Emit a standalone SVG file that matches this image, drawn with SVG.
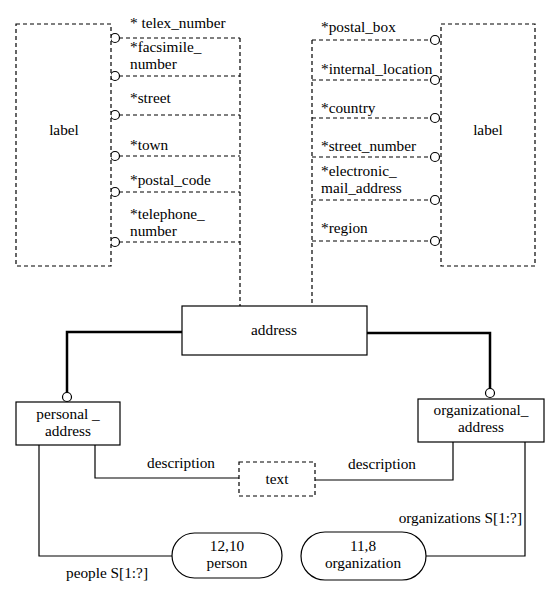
<svg xmlns="http://www.w3.org/2000/svg" width="550" height="589" viewBox="0 0 550 589" font-family="'Liberation Serif', 'DejaVu Serif', serif" font-size="15.3">
<style>
text{font-family:'Liberation Serif','DejaVu Serif',serif;font-size:15.3px;fill:#000}
.m{text-anchor:middle}
.box{fill:#fff;stroke:#000;stroke-width:1.2}
.dbox{fill:#fff;stroke:#000;stroke-width:1.2;stroke-dasharray:4,3}
.dl{fill:none;stroke:#000;stroke-width:1.2;stroke-dasharray:4,3}
.sl{fill:none;stroke:#000;stroke-width:1.2}
.tl{fill:none;stroke:#000;stroke-width:2.5}
.c{fill:#fff;stroke:#000;stroke-width:1.2}
</style>
<rect width="550" height="589" fill="#fff"/>
<g id="connectors">
<path class="dl" d="M240 38V306"/>
<path class="dl" d="M119 38H240M119 76H240M119 115H240M119 156H240M119 192H240M119 242H240"/>
<path class="dl" d="M312 40V306"/>
<path class="dl" d="M312 40H431M312 80H431M312 118H431M312 157H431M312 200H431M312 241H431"/>
<circle class="c" cx="115" cy="38" r="4.5"/>
<circle class="c" cx="115" cy="76" r="4.5"/>
<circle class="c" cx="115" cy="115" r="4.5"/>
<circle class="c" cx="115" cy="156" r="4.5"/>
<circle class="c" cx="115" cy="192" r="4.5"/>
<circle class="c" cx="115" cy="242" r="4.5"/>
<circle class="c" cx="435" cy="40" r="4.5"/>
<circle class="c" cx="435" cy="80" r="4.5"/>
<circle class="c" cx="435" cy="118" r="4.5"/>
<circle class="c" cx="435" cy="157" r="4.5"/>
<circle class="c" cx="435" cy="200" r="4.5"/>
<circle class="c" cx="435" cy="241" r="4.5"/>
<path class="tl" d="M182 332H67V393"/>
<circle class="c" cx="67" cy="397" r="4.5"/>
<path class="tl" d="M367 333H490V389"/>
<circle class="c" cx="490" cy="393" r="4.5"/>
<path class="sl" d="M95 445V478H239"/>
<path class="sl" d="M453 442V480H315"/>
<path class="sl" d="M39 445V556H172"/>
<path class="sl" d="M525 442V556H426"/>
<text x="130" y="28">* telex_number</text>
<text x="130" y="52">*facsimile_</text>
<text x="130" y="69">number</text>
<text x="130" y="103">*street</text>
<text x="130" y="150">*town</text>
<text x="130" y="185">*postal_code</text>
<text x="130" y="219">*telephone_</text>
<text x="130" y="236">number</text>
<text x="321" y="32">*postal_box</text>
<text x="321" y="74">*internal_location</text>
<text x="321" y="113">*country</text>
<text x="321" y="151">*street_number</text>
<text x="321" y="176">*electronic_</text>
<text x="321" y="193">mail_address</text>
<text x="321" y="233">*region</text>
<text class="m" x="181" y="468">description</text>
<text class="m" x="382" y="469">description</text>
<text class="m" x="107" y="578">people S[1:?]</text>
<text x="522" y="523" text-anchor="end">organizations S[1:?]</text>
</g>
<g id="label-left">
<rect class="dbox" x="16" y="24" width="95" height="242"/>
<text class="m" x="64" y="135">label</text>
</g>
<g id="label-right">
<rect class="dbox" x="441" y="24" width="94" height="242"/>
<text class="m" x="488" y="135">label</text>
</g>
<g id="address">
<rect class="box" x="182" y="306" width="185" height="49"/>
<text class="m" x="274" y="335">address</text>
</g>
<g id="personal_address">
<rect class="box" x="16" y="402" width="104" height="43"/>
<text class="m" x="68" y="419">personal _</text>
<text class="m" x="68" y="436">address</text>
</g>
<g id="organizational_address">
<rect class="box" x="418" y="399" width="126" height="43"/>
<text class="m" x="481" y="415">organizational_</text>
<text class="m" x="481" y="432">address</text>
</g>
<g id="text">
<rect class="dbox" x="239" y="462" width="76" height="34"/>
<text class="m" x="277" y="484">text</text>
</g>
<g id="person">
<rect class="box" x="172" y="533" width="110" height="45" rx="22.5"/>
<text class="m" x="227" y="551">12,10</text>
<text class="m" x="227" y="568">person</text>
</g>
<g id="organization">
<rect class="box" x="301" y="532" width="125" height="48" rx="24"/>
<text class="m" x="363" y="551">11,8</text>
<text class="m" x="363" y="568">organization</text>
</g>
</svg>
